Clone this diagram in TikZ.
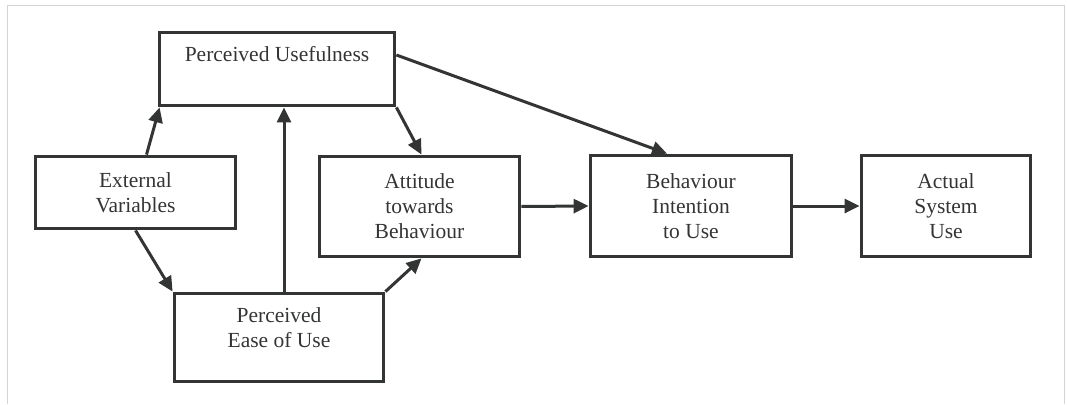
\documentclass[tikz,border=0pt]{standalone}
\usepackage{fontspec}
\setmainfont{Liberation Serif}
\usetikzlibrary{arrows.meta}
\definecolor{ink}{HTML}{333535}
\definecolor{frame}{HTML}{D4D4D4}

\begin{document}
\begin{tikzpicture}[x=1pt, y=-1pt,
	box/.style={draw=ink, line width=3.8pt, align=center, text=ink,
		font=\fontsize{21.5pt}{25pt}\selectfont},
	link/.style={draw=ink, line width=3pt, -{Triangle[length=15pt,width=14pt]}}]
	\useasboundingbox (0,0) rectangle (1067,404);
	\draw [frame, line width=1pt] (7,404) -- (7,6) -- (1064,6) -- (1064,404);
	\node (pu) [box, minimum width=235, minimum height=73, text depth=30pt] at (277,69) {Perceived Usefulness};
	\node (ev) [box, minimum width=200, minimum height=72] at (135.5,192.5) {External\\Variables};
	\node (peou) [box, minimum width=209, minimum height=88, text depth=20pt] at (279,337.5) {Perceived\\Ease of Use};
	\node (att) [box, minimum width=200, minimum height=100] at (419.5,206.5) {Attitude\\towards\\Behaviour};
	\node (bi) [box, minimum width=201, minimum height=101] at (691,206) {Behaviour\\Intention\\to Use};
	\node (asu) [box, minimum width=169, minimum height=101] at (946,206) {Actual\\System\\Use};
	\draw [link] ([xshift=11pt]ev.north) -- ([xshift=2pt]pu.south west);
	\draw [link] ([xshift=5pt]peou.north) -- ([xshift=5pt]peou.north |- pu.south);
	\draw [link] (pu.south east) -- ([xshift=2pt]att.north);
	\draw [link] ([yshift=14pt]pu.east) -- ([xshift=-24pt]bi.north);
	\draw [link] (ev.south) -- (peou.north west);
	\draw [link] (peou.north east) -- ([xshift=2pt]att.south);
	\draw [link] (att.east) -- (bi.west);
	\draw [link] (bi.east) -- (asu.west);
\end{tikzpicture}
\end{document}
